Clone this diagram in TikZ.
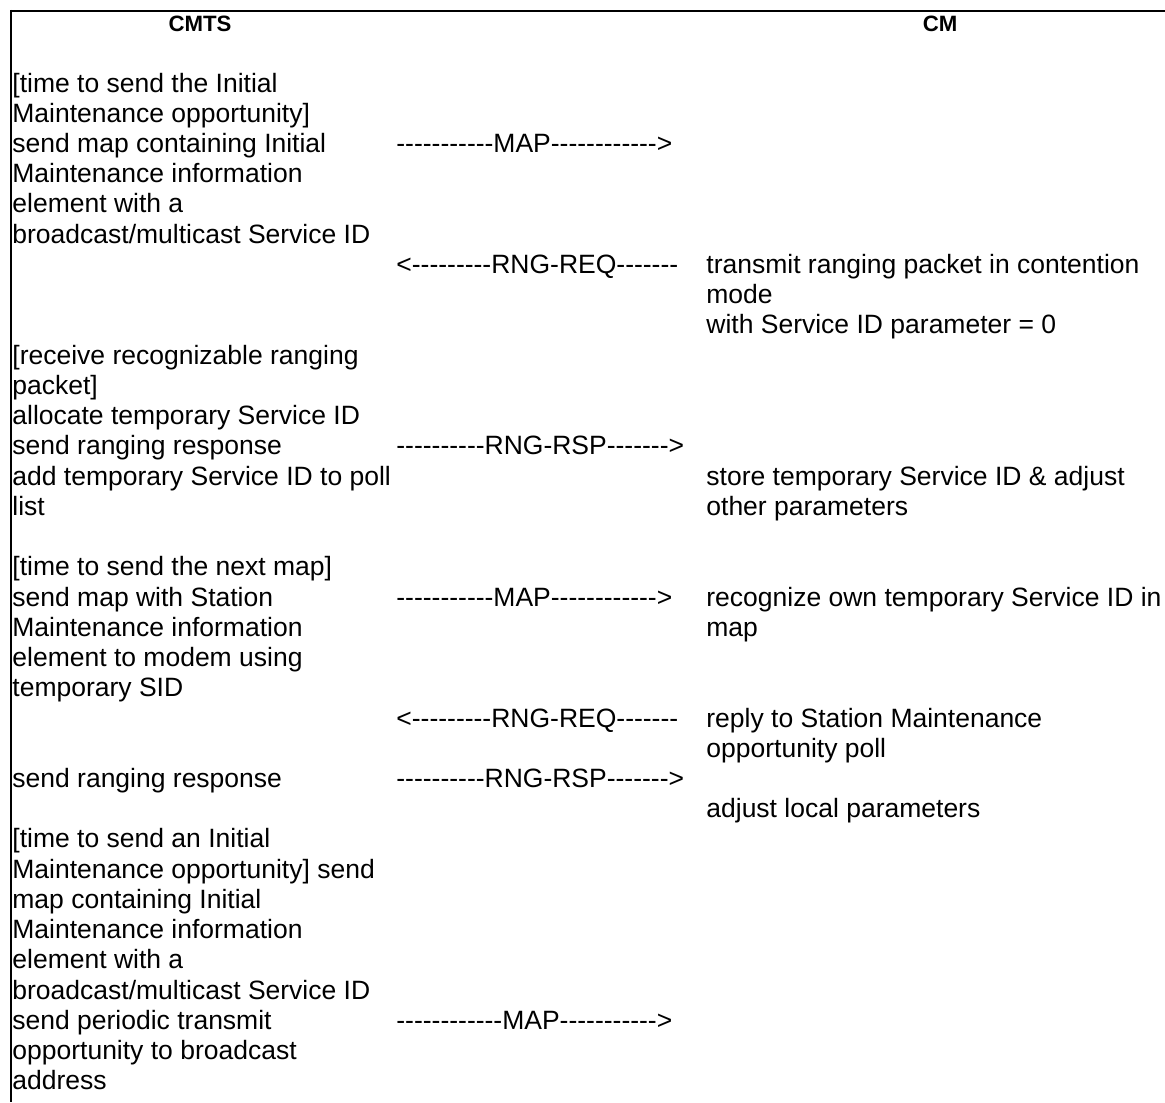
\documentclass[tikz,border=0pt]{standalone}
\usepackage{fontspec}
\setmainfont{Liberation Sans}
\usepackage{tikz}
\usetikzlibrary{positioning}
\newcommand{\cellfont}{\fontsize{13.25}{15.12}\selectfont}
\newcommand{\hdfont}{\fontsize{11.1}{13}\selectfont\bfseries}

\begin{document}
\begin{tikzpicture}[
      x=0.5pt, y=-0.5pt,
      cell/.style={anchor=base west, inner sep=0pt, align=left, font=\cellfont},
      msg/.style={anchor=base west, inner sep=0pt, font=\cellfont},
      head/.style={anchor=base, inner sep=0pt, font=\hdfont},
      frame/.style={line width=1pt, black}
  ]
      \useasboundingbox (0,0) rectangle (1165,1102);
      \draw[frame] (10,11) -- (1165,11);
      \draw[frame] (11,10) -- (11,1102);
      \node[head] (cmts) at (200,32) {CMTS};
      \node[head] (cm) at (940,32) {CM};
      % CMTS side (nodes sit on the baseline of their last line)
      \node[cell] (initA) at (12,243.2) {[time to send the Initial\\Maintenance opportunity]\\send map containing Initial\\Maintenance information\\element with a\\broadcast/multicast Service ID};
      \node[cell] (recv) at (12,515.4) {[receive recognizable ranging\\packet]\\allocate temporary Service ID\\send ranging response\\add temporary Service ID to poll\\list};
      \node[cell] (next) at (12,696.8) {[time to send the next map]\\send map with Station\\Maintenance information\\element to modem using\\temporary SID};
      \node[cell] (resp) at (12,787.5) {send ranging response};
      \node[cell] (initB) at (12,1089.9) {[time to send an Initial\\Maintenance opportunity] send\\map containing Initial\\Maintenance information\\element with a\\broadcast/multicast Service ID\\send periodic transmit\\opportunity to broadcast\\address};
      % messages
      \node[msg] (mapA) at (396,152.5) {-{}-{}-{}-{}-{}-{}-{}-{}-{}-{}-MAP-{}-{}-{}-{}-{}-{}-{}-{}-{}-{}-{}->};
      \node[msg] (reqA) at (396,273.4) {<-{}-{}-{}-{}-{}-{}-{}-{}-RNG-REQ-{}-{}-{}-{}-{}-{}-};
      \node[msg] (rspA) at (396,454.9) {-{}-{}-{}-{}-{}-{}-{}-{}-{}-RNG-RSP-{}-{}-{}-{}-{}-{}->};
      \node[msg] (mapB) at (396,606.1) {-{}-{}-{}-{}-{}-{}-{}-{}-{}-{}-MAP-{}-{}-{}-{}-{}-{}-{}-{}-{}-{}-{}->};
      \node[msg] (reqB) at (396,727) {<-{}-{}-{}-{}-{}-{}-{}-{}-RNG-REQ-{}-{}-{}-{}-{}-{}-};
      \node[msg] (rspB) at (396,787.5) {-{}-{}-{}-{}-{}-{}-{}-{}-{}-RNG-RSP-{}-{}-{}-{}-{}-{}->};
      \node[msg] (mapC) at (396,1029.4) {-{}-{}-{}-{}-{}-{}-{}-{}-{}-{}-{}-MAP-{}-{}-{}-{}-{}-{}-{}-{}-{}-{}->};
      % CM side
      \node[cell] (tx) at (706,333.9) {transmit ranging packet in contention\\mode\\with Service ID parameter = 0};
      \node[cell] (store) at (706,515.4) {store temporary Service ID \& adjust\\other parameters};
      \node[cell] (own) at (706,636.3) {recognize own temporary Service ID in\\map};
      \node[cell] (reply) at (706,757.3) {reply to Station Maintenance\\opportunity poll};
      \node[cell] (adjust) at (706,817.8) {adjust local parameters};
  \end{tikzpicture}
\end{document}
